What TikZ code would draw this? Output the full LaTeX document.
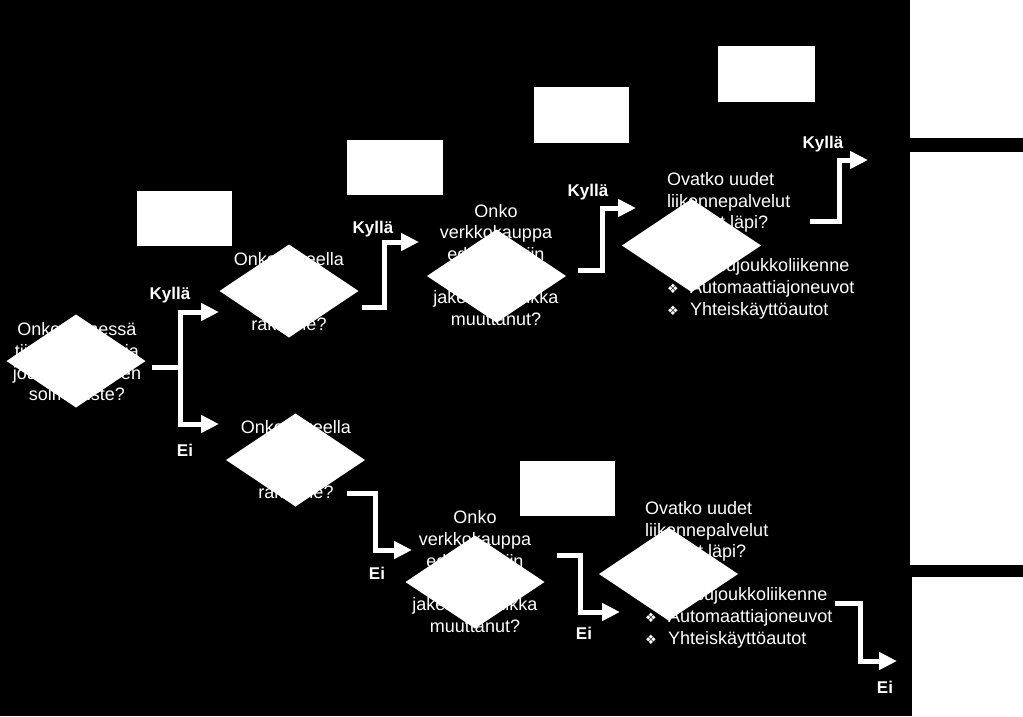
\documentclass[tikz,border=0pt]{standalone}
\usepackage{fontspec}
\setmainfont{Liberation Sans}
\newfontfamily\symfont{DejaVu Sans}
\usetikzlibrary{shapes.geometric,arrows.meta}
\newcommand{\bul}[1]{\makebox[23pt][l]{\symfont\fontsize{13}{13}\selectfont ❖}#1}
\begin{document}
\begin{tikzpicture}[x=1pt,y=-1pt,
  q/.style={text=white, align=center, inner sep=0pt, font=\fontsize{18}{21.7}\selectfont},
  ql/.style={text=white, align=left, inner sep=0pt, anchor=base west, font=\fontsize{18}{21.6}\selectfont},
  dia/.style={diamond, fill=white, draw=none, inner sep=0pt, outer sep=0pt, minimum width=139pt, minimum height=93pt},
  box/.style={rectangle, fill=white, draw=none, inner sep=0pt, outer sep=0pt},
  lbl/.style={text=white, inner sep=0pt, font=\fontsize{17}{20}\selectfont\bfseries},
  arr/.style={draw=white, line width=5pt, -{Triangle[length=18pt,width=17pt]}},
  ln/.style={draw=white, line width=5pt},
]
\useasboundingbox (0,0) rectangle (1023,716);
\fill[black] (0,0) rectangle (1023,716);

% question texts (behind the diamonds)
\node[q] (t1) at (77,363.5) {Onko ytimessä\\tiivis rakenne ja\\joukkoliikenteen\\solmupiste?};
\node[q] (t2) at (289,292) {Onko alueella\\tiivis\\kaupunki-\\rakenne?};
\node[q] (t3) at (496,265) {Onko\\verkkokauppa\\edennyt niin\\pitkälle, että\\jakelulogistiikka\\muuttanut?};
\node[ql] (t4) at (667,315) {Ovatko uudet\\liikennepalvelut\\lyöneet läpi?\\[21.6pt]\bul{Kutsujoukkoliikenne}\\\bul{Automaattiajoneuvot}\\\bul{Yhteiskäyttöautot}};
\node[q] (t5) at (296,459.5) {Onko alueella\\tiivis\\kaupunki-\\rakenne?};
\node[q] (t6) at (475,571.5) {Onko\\verkkokauppa\\edennyt niin\\pitkälle, että\\jakelulogistiikka\\muuttanut?};
\node[ql] (t7) at (645,644) {Ovatko uudet\\liikennepalvelut\\lyöneet läpi?\\[21.6pt]\bul{Kutsujoukkoliikenne}\\\bul{Automaattiajoneuvot}\\\bul{Yhteiskäyttöautot}};

% diamonds
\node[dia] (d1) at (76,361) {};
\node[dia] (d2) at (289,291) {};
\node[dia] (d3) at (496.5,276) {};
\node[dia] (d4) at (691.5,245.5) {};
\node[dia] (d5) at (295.5,460) {};
\node[dia] (d6) at (475,582) {};
\node[dia] (d7) at (668.5,574) {};

% boxes
\node[box, minimum width=95pt, minimum height=55pt] (r1) at (184.5,218.5) {};
\node[box, minimum width=96pt, minimum height=55pt] (r2) at (395,167.5) {};
\node[box, minimum width=95pt, minimum height=56pt] (r3) at (581.5,115) {};
\node[box, minimum width=97pt, minimum height=56pt] (r4) at (766.5,74) {};
\node[box, minimum width=95pt, minimum height=55pt] (r5) at (567.5,488.5) {};
\node[box, minimum width=113pt, minimum height=138pt] (s1) at (966.5,69) {};
\node[box, minimum width=113pt, minimum height=413pt] (s2) at (966.5,358.5) {};
\node[box, minimum width=111pt, minimum height=139pt] (s3) at (967.5,646.5) {};

% connector points
\coordinate (a1s) at (152,367);
\coordinate (a1j) at (180,367);
\coordinate (a1y) at (219,312);
\coordinate (a1n) at (219,424);
\coordinate (a2s) at (362,307);
\coordinate (a2m) at (384,242);
\coordinate (a2e) at (419,242);
\coordinate (a3s) at (578,270);
\coordinate (a3m) at (602,208);
\coordinate (a3e) at (636,208);
\coordinate (a4s) at (810,221);
\coordinate (a4m) at (839,160);
\coordinate (a4e) at (868,160);
\coordinate (a5s) at (347,493);
\coordinate (a5m) at (375,550);
\coordinate (a5e) at (412,550);
\coordinate (a6s) at (557,555);
\coordinate (a6m) at (580,612);
\coordinate (a6e) at (620,612);
\coordinate (a7s) at (835,603);
\coordinate (a7m) at (860,661);
\coordinate (a7e) at (897,661);

% connectors
\draw[ln] (a1s) -- (a1j);
\draw[arr] (a1j) |- (a1y);
\draw[arr] (a1j) |- (a1n);
\draw[arr] (a2s) -| (a2m) -- (a2e);
\draw[arr] (a3s) -| (a3m) -- (a3e);
\draw[arr] (a4s) -| (a4m) -- (a4e);
\draw[arr] (a5s) -| (a5m) -- (a5e);
\draw[arr] (a6s) -| (a6m) -- (a6e);
\draw[arr] (a7s) -| (a7m) -- (a7e);

% labels
\node[lbl] (k1) at (170,295) {Kyllä};
\node[lbl] (e1) at (185,450) {Ei};
\node[lbl] (k2) at (373,229) {Kyllä};
\node[lbl] (k3) at (588,192) {Kyllä};
\node[lbl] (k4) at (823,144) {Kyllä};
\node[lbl] (e2) at (377,573) {Ei};
\node[lbl] (e3) at (584,633) {Ei};
\node[lbl] (e4) at (885,687) {Ei};
\end{tikzpicture}
\end{document}
